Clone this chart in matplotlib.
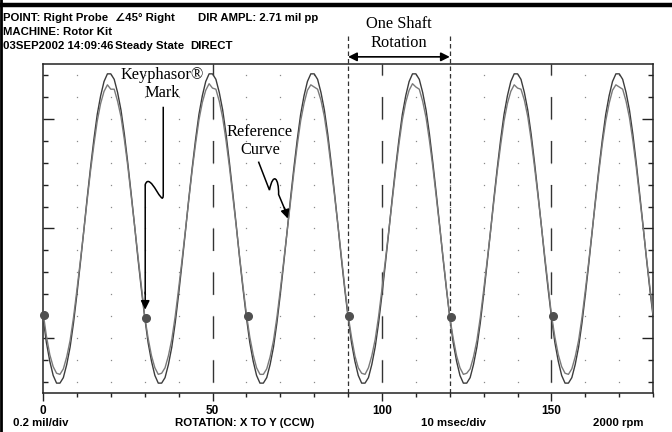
import numpy as np
import matplotlib
matplotlib.use("Agg")
import matplotlib.pyplot as plt
from matplotlib.path import Path
from matplotlib.patches import PathPatch
from matplotlib.lines import Line2D

# waveform samples, one per msec (0..180 ms), displacement in mils
ref_mils = [
    -0.81, -1.04, -1.21, -1.34, -1.41, -1.41, -1.36, -1.24, -1.08, -0.86, -0.60, -0.32, -0.03, 0.27, 0.55,
    0.81, 1.04, 1.21, 1.34, 1.41, 1.41, 1.36, 1.24, 1.08, 0.86, 0.60, 0.32, 0.03, -0.27, -0.55,
    -0.81, -1.04, -1.21, -1.34, -1.41, -1.41, -1.36, -1.24, -1.08, -0.86, -0.60, -0.32, -0.03, 0.27, 0.55,
    0.81, 1.04, 1.21, 1.34, 1.41, 1.41, 1.36, 1.24, 1.08, 0.86, 0.60, 0.32, 0.03, -0.27, -0.55,
    -0.81, -1.04, -1.21, -1.34, -1.41, -1.41, -1.36, -1.24, -1.08, -0.86, -0.60, -0.32, -0.03, 0.27, 0.55,
    0.81, 1.04, 1.21, 1.34, 1.41, 1.41, 1.36, 1.24, 1.08, 0.86, 0.60, 0.32, 0.03, -0.27, -0.55,
    -0.81, -1.04, -1.21, -1.34, -1.41, -1.41, -1.36, -1.24, -1.08, -0.86, -0.60, -0.32, -0.03, 0.27, 0.55,
    0.81, 1.04, 1.21, 1.34, 1.41, 1.41, 1.36, 1.24, 1.08, 0.86, 0.60, 0.32, 0.03, -0.27, -0.55,
    -0.81, -1.04, -1.21, -1.34, -1.41, -1.41, -1.36, -1.24, -1.08, -0.86, -0.60, -0.32, -0.03, 0.27, 0.55,
    0.81, 1.04, 1.21, 1.34, 1.41, 1.41, 1.36, 1.24, 1.08, 0.86, 0.60, 0.32, 0.03, -0.27, -0.55,
    -0.81, -1.04, -1.21, -1.34, -1.41, -1.41, -1.36, -1.24, -1.08, -0.86, -0.60, -0.32, -0.03, 0.27, 0.55,
    0.81, 1.04, 1.21, 1.34, 1.41, 1.41, 1.36, 1.24, 1.08, 0.86, 0.60, 0.32, 0.03, -0.27, -0.55,
    -0.81,
]
direct_mils = [
    -0.76, -0.98, -1.15, -1.26, -1.32, -1.33, -1.28, -1.17, -1.02, -0.81, -0.56, -0.30, -0.03, 0.25, 0.52,
    0.76, 0.98, 1.14, 1.25, 1.31, 1.27, 1.27, 1.16, 1.02, 0.81, 0.57, 0.30, 0.03, -0.25, -0.52,
    -0.80, -1.00, -1.16, -1.27, -1.33, -1.32, -1.27, -1.16, -1.01, -0.80, -0.55, -0.29, -0.02, 0.26, 0.53,
    0.77, 0.99, 1.15, 1.26, 1.32, 1.28, 1.27, 1.16, 1.01, 0.80, 0.56, 0.29, 0.02, -0.26, -0.53,
    -0.78, -0.99, -1.15, -1.27, -1.33, -1.33, -1.28, -1.17, -1.02, -0.81, -0.56, -0.30, -0.03, 0.24, 0.51,
    0.76, 0.98, 1.14, 1.26, 1.31, 1.29, 1.27, 1.17, 1.02, 0.81, 0.56, 0.30, 0.03, -0.25, -0.53,
    -0.79, -0.99, -1.16, -1.27, -1.32, -1.33, -1.27, -1.16, -1.01, -0.80, -0.55, -0.29, -0.02, 0.25, 0.52,
    0.77, 0.99, 1.15, 1.26, 1.32, 1.29, 1.27, 1.16, 1.01, 0.80, 0.56, 0.29, 0.02, -0.26, -0.54,
    -0.81, -1.00, -1.16, -1.27, -1.33, -1.32, -1.28, -1.17, -1.02, -0.81, -0.56, -0.30, -0.03, 0.25, 0.52,
    0.76, 0.98, 1.14, 1.25, 1.31, 1.28, 1.27, 1.17, 1.02, 0.81, 0.56, 0.30, 0.03, -0.25, -0.52,
    -0.79, -0.99, -1.15, -1.26, -1.32, -1.33, -1.28, -1.17, -1.02, -0.81, -0.56, -0.30, -0.02, 0.25, 0.52,
    0.77, 0.98, 1.14, 1.26, 1.31, 1.29, 1.27, 1.16, 1.01, 0.80, 0.56, 0.29, 0.02, -0.26, -0.53,
    -0.78,
]
time_ms = np.arange(len(ref_mils))

# once-per-turn Keyphasor events
kp_time = [0.2, 30.3, 60.4, 90.4, 120.5, 150.4]
kp_mils = [-0.79, -0.82, -0.80, -0.80, -0.81, -0.80]

x_major = [0, 50, 100, 150]
x_minor = list(range(0, 181, 10))
y_major = [-1.0, 0.0, 1.0]
y_minor = [round(-1.4 + 0.2 * i, 1) for i in range(15)]
rev_start, rev_end = 90, 120

sans = ["Liberation Sans", "DejaVu Sans"]
serif = ["Liberation Serif", "DejaVu Serif"]
ink = "#222222"

fig = plt.figure(figsize=(6.72, 4.32), dpi=100)
ax = fig.add_axes([0.064, 0.0903, 0.908, 0.7616])
ax.set_xlim(0, 180)
ax.set_ylim(-1.5, 1.5)

# dotted graticule
gx, gy = np.meshgrid(x_minor[1:-1], y_minor)
ax.plot(gx.ravel(), gy.ravel(), ls="none", marker="s", ms=0.9, mew=0, color="#8a8a8a", zorder=1)

# long-dash lines at the labelled divisions
for xv in x_major[1:]:
    ax.plot([xv, xv], [-1.4, 1.5], color="#333333", lw=1.0, dashes=(15.8, 15.8), zorder=1)

# one revolution markers
for xv in (rev_start, rev_end):
    ax.plot([xv, xv], [-1.5, 1.78], color="#333333", lw=0.9, dashes=(3.6, 2.4), zorder=1, clip_on=False)
ax.annotate("", xy=(rev_start, 1.565), xytext=(rev_end, 1.565), annotation_clip=False,
            arrowprops=dict(arrowstyle="<|-|>", color="black", lw=1.2, mutation_scale=13,
                            shrinkA=0, shrinkB=0))
ax.text(105, 1.86, "One Shaft", family=serif, fontsize=11.8, ha="center", va="center")
ax.text(105, 1.69, "Rotation", family=serif, fontsize=11.8, ha="center", va="center")

ax.plot(time_ms, ref_mils, color="#3c3c3c", lw=1.0, zorder=3)
ax.plot(time_ms, direct_mils, color="#7a7a7a", lw=1.0, zorder=3)
ax.plot(kp_time, kp_mils, ls="none", marker="o", ms=5.5, color="#505050", zorder=4, clip_on=False)

# Keyphasor callout
ax.text(35.1, 1.40, "Keyphasor®", family=serif, fontsize=11.8, ha="center", va="center")
ax.text(35.1, 1.233, "Mark", family=serif, fontsize=11.8, ha="center", va="center")
kp_lead = Path([(35.47, 1.11), (35.47, 0.31), (35.47, 0.17), (31.6, 0.53), (30.15, 0.40), (30.15, -0.60)],
               [Path.MOVETO, Path.LINETO, Path.CURVE4, Path.CURVE4, Path.CURVE4, Path.LINETO])
ax.add_patch(PathPatch(kp_lead, fill=False, color="black", lw=1.1, zorder=5, clip_on=False))
ax.annotate("", xy=(30.15, -0.74), xytext=(30.15, -0.58),
            arrowprops=dict(arrowstyle="-|>", color="black", lw=1.1, mutation_scale=13, shrinkA=0, shrinkB=0),
            zorder=5)

# reference curve callout
ax.text(63.9, 0.883, "Reference", family=serif, fontsize=11.8, ha="center", va="center")
ax.text(64.1, 0.716, "Curve", family=serif, fontsize=11.8, ha="center", va="center")
ref_lead = Path([(63.55, 0.61), (66.8, 0.35), (67.9, 0.52), (69.6, 0.46), (69.5, 0.31), (71.4, 0.17)],
                [Path.MOVETO, Path.LINETO, Path.CURVE4, Path.CURVE4, Path.CURVE4, Path.LINETO])
ax.add_patch(PathPatch(ref_lead, fill=False, color="black", lw=1.1, zorder=5))
ax.annotate("", xy=(72.2, 0.09), xytext=(71.2, 0.19),
            arrowprops=dict(arrowstyle="-|>", color="black", lw=1.1, mutation_scale=13, shrinkA=0, shrinkB=0),
            zorder=5)

# axes frame and ticks
for sp in ax.spines.values():
    sp.set_color(ink)
    sp.set_linewidth(1.1)
ax.set_xticks(x_major)
ax.set_xticks(x_minor, minor=True)
ax.set_yticks(y_major)
ax.set_yticks(y_minor, minor=True)
ax.set_yticklabels([])
ax.set_xticklabels([str(v) for v in x_major], family=sans, fontsize=8.5, fontweight="bold")
ax.tick_params(axis="x", which="major", direction="out", length=5.5, width=1.0, color=ink, pad=3)
ax.tick_params(axis="x", which="minor", direction="out", length=3, width=1.0, color=ink)
ax.tick_params(axis="y", which="major", direction="in", length=8, width=1.0, color=ink, left=True, right=True)
ax.tick_params(axis="y", which="minor", direction="in", length=3.6, width=1.0, color=ink, left=True, right=True)

# plot header
hdr = dict(family=sans, fontsize=8.2, fontweight="bold", va="center", ha="left")
fig.text(3 / 672, 1 - 18 / 432, "POINT: Right Probe", **hdr)
fig.text(115 / 672, 1 - 18 / 432, "∠45° Right", **hdr)
fig.text(198 / 672, 1 - 18 / 432, "DIR AMPL: 2.71 mil pp", **hdr)
fig.text(3 / 672, 1 - 32 / 432, "MACHINE: Rotor Kit", **hdr)
fig.text(3 / 672, 1 - 46 / 432, "03SEP2002 14:09:46", **hdr)
fig.text(115 / 672, 1 - 46 / 432, "Steady State", **hdr)
fig.text(190 / 672, 1 - 46 / 432, "DIRECT", **hdr)

# scale footer
fig.text(13 / 672, 1 - 423 / 432, "0.2 mil/div", **hdr)
fig.text(175 / 672, 1 - 423 / 432, "ROTATION: X TO Y (CCW)", **hdr)
fig.text(421 / 672, 1 - 423 / 432, "10 msec/div", **hdr)
fig.text(593 / 672, 1 - 423 / 432, "2000 rpm", **hdr)

# window border
fig.add_artist(Line2D([0, 1], [1 - 5 / 432, 1 - 5 / 432], color="black", lw=3.2, transform=fig.transFigure))
fig.add_artist(Line2D([1 / 672, 1 / 672], [0, 1], color="black", lw=2.0, transform=fig.transFigure))

fig.savefig("out.png", dpi=100)
